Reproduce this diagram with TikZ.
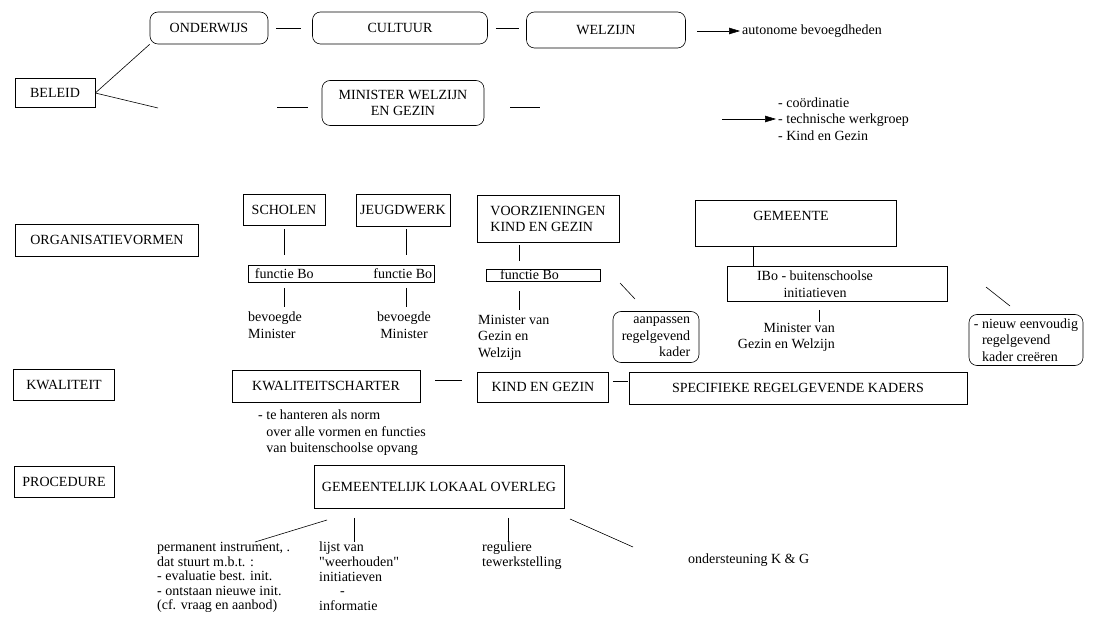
\documentclass[tikz,border=0pt]{standalone}
\usepackage{fontspec}
\setmainfont{Liberation Serif}[Ligatures=TeXOff]
\usetikzlibrary{calc,arrows.meta}

\begin{document}
\begin{tikzpicture}[x=1pt,y=-1pt,
  every node/.style={font=\fontsize{14}{16.5}\selectfont, inner sep=0pt},
  tight/.style={font=\fontsize{14}{14.6}\selectfont},
  box/.style={draw, line width=0.6pt},
  rbox/.style={box, rounded corners=8pt},
  lbl/.style={anchor=north west, align=left},
  link/.style={line width=0.6pt},
  arr/.style={link, -{Triangle[length=11pt,width=6.5pt]}}
]
\useasboundingbox (0,0) rectangle (1098,620);

% ---- BELEID ----
\node[box, minimum width=80, minimum height=29] (bel) at (55,93) {BELEID};
\node[rbox, minimum width=118, minimum height=32] (ond) at (209,28) {ONDERWIJS};
\node[rbox, minimum width=175, minimum height=32] (cul) at (400,28) {CULTUUR};
\node[rbox, minimum width=159, minimum height=36] (wel) at (606,30) {WELZIJN};
\draw[link, shorten <=8, shorten >=11] (ond.east) -- (cul.west);
\draw[link, shorten <=8, shorten >=7] (cul.east) -- (cul.east -| wel.west);
\node[anchor=west] (aut) at (742,31) {autonome bevoegdheden};
\coordinate (a1) at (697,31);
\draw[arr, shorten >=2] (a1) -- (aut.west);

\draw[link] (bel.east) -- (ond.south west);
\coordinate (b2) at (158,108);
\draw[link] (bel.east) -- (b2);

\node[rbox, minimum width=162, minimum height=45, align=center] (min) at (403,103) {MINISTER WELZIJN\\EN GEZIN};
\coordinate (m1) at (277,107);
\coordinate (m2) at (540,107);
\draw[link, shorten >=14] (m1) -- (m1 -| min.west);
\draw[link, shorten <=26] (m2 -| min.east) -- (m2);

\node[anchor=west, align=left] (coo) at (778,119) {- coördinatie\\- technische werkgroep\\- Kind en Gezin};
\coordinate (a2) at (722,119);
\draw[arr, shorten >=2] (a2) -- (a2 -| coo.west);

% ---- ORGANISATIEVORMEN ----
\node[box, minimum width=183, minimum height=32] (org) at (107,240) {ORGANISATIEVORMEN};
\node[box, minimum width=82, minimum height=31] (sch) at (284,210) {SCHOLEN};
\node[box, minimum width=94, minimum height=32] (jeu) at (403,210) {JEUGDWERK};
\node[box, minimum width=142, minimum height=47, align=left] (voo) at (548,219) {VOORZIENINGEN\\KIND EN GEZIN};
\node[box, minimum width=201, minimum height=46] (gem) at (796,223) {};
\node (gemt) at (791,216) {GEMEENTE};

\node[box, minimum width=186, minimum height=17] (fb) at (341,274) {};
\node[anchor=west] (fb1) at ([xshift=7]fb.west) {functie Bo};
\node[anchor=east] (fb2) at ([xshift=-2]fb.east) {functie Bo};
\draw[link, shorten <=3, shorten >=10] (sch.south) -- (sch.south |- fb.north);
\draw[link, shorten <=3, shorten >=10] (jeu.south -| 406,0) -- (fb.north -| 406,0);

\node[lbl] (bev1) at (248,312) {bevoegde\\Minister};
\node[anchor=north, align=center] (bev2) at (404,312) {bevoegde\\Minister};
\draw[link, shorten <=5, shorten >=5] (sch.south |- fb.south) -- (sch.south |- bev1.north);
\draw[link, shorten <=5, shorten >=5] (fb.south -| 406,0) -- (bev2.north -| 406,0);

\node[box, minimum width=114, minimum height=12] (fbv) at (543,275) {};
\node[anchor=base west] (fbvt) at (500,280) {functie Bo};
\draw[link, shorten <=2, shorten >=8] (voo.south -| 519,0) -- (fbv.north -| 519,0);
\node[lbl] (mvg) at (478,315) {Minister van\\Gezin en\\Welzijn};
\draw[link, shorten <=10, shorten >=5] (fbv.south -| 519,0) -- (mvg.north -| 519,0);

\node[rbox, minimum width=86, minimum height=51, align=right] (aan) at (656,337) {aanpassen\\regelgevend\\kader};
\coordinate (d1) at (620,283);
\coordinate (d2) at (635,299);
\draw[link] (d1) -- (d2);

\node[box, minimum width=220, minimum height=35] (ibo) at (837,284) {};
\node[align=center] (ibot) at (815,284) {IBo - buitenschoolse\\initiatieven};
\draw[link] (gem.south -| 753,0) -- (ibo.north -| 753,0);
\node[anchor=north east, align=right] (mgw) at (835,323) {Minister van\\Gezin en Welzijn};
\draw[link, shorten <=8] (ibo.south -| 819,0) -- (819,322);
\coordinate (d3) at (986,287);
\coordinate (d4) at (1010,306);
\draw[link] (d3) -- (d4);

\node[rbox, minimum width=114, minimum height=51, align=left] (nie) at (1026,340)
  {- nieuw eenvoudig\\\hphantom{- }regelgevend\\\hphantom{- }kader creëren};

% ---- KWALITEIT ----
\node[box, minimum width=101, minimum height=31] (kwa) at (64,385) {KWALITEIT};
\node[box, minimum width=188, minimum height=32] (kch) at (326,386) {KWALITEITSCHARTER};
\node[box, minimum width=131, minimum height=30] (keg) at (543,387) {KIND EN GEZIN};
\node[box, minimum width=338, minimum height=32] (spe) at (798,388) {SPECIFIEKE REGELGEVENDE KADERS};
\draw[link, shorten <=15, shorten >=15] (kch.east |- 0,380) -- (keg.west |- 0,380);
\draw[link, shorten <=4, shorten >=1] (keg.east |- 0,381) -- (spe.west |- 0,381);
\node[lbl] (nor) at (258,410) {- te hanteren als norm\\\hphantom{- }over alle vormen en functies\\\hphantom{- }van buitenschoolse opvang};

% ---- PROCEDURE ----
\node[box, minimum width=100, minimum height=31] (pro) at (64,482) {PROCEDURE};
\node[box, minimum width=250, minimum height=43] (glo) at (439,487) {GEMEENTELIJK LOKAAL OVERLEG};

\node[lbl, tight] (per) at (157,542)
  {permanent instrument, .\\dat stuurt m.b.t. :\\- evaluatie best. init.\\- ontstaan nieuwe init.\\(cf. vraag en aanbod)};
\node[lbl, tight] (lij) at (319,542)
  {lijst van\\"weerhouden"\\initiatieven\\\hspace*{21pt}-\\informatie};
\node[lbl, tight] (reg) at (482,542) {reguliere\\tewerkstelling};
\node[anchor=west] (ond2) at (688,560) {ondersteuning K \& G};

\coordinate (p1) at (327,520);
\coordinate (p2) at (255,542);
\draw[link] (p1) -- (p2);
\draw[link] (glo.south -| 354,0) ++(0,9) -- (lij.north -| 354,0);
\draw[link] (glo.south -| 508,0) ++(0,9) -- (reg.north -| 508,0);
\coordinate (p3) at (570,519);
\coordinate (p4) at (633,547);
\draw[link] (p3) -- (p4);
\end{tikzpicture}
\end{document}
